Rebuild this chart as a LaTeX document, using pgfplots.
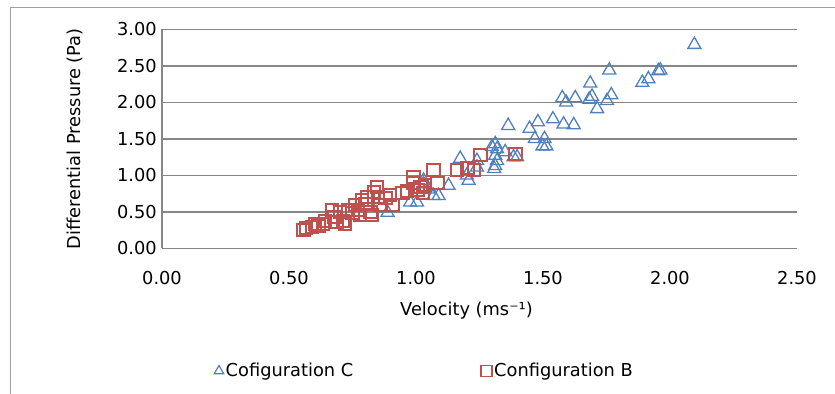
\documentclass[border=0pt]{standalone}
\usepackage{fontspec}
\setmainfont{DejaVu Sans}
\usepackage{pgfplots}
\pgfplotsset{compat=1.18}
\definecolor{cgrid}{RGB}{134,134,134}
\definecolor{cblue}{RGB}{79,129,189}
\definecolor{cred}{RGB}{192,80,77}
\definecolor{cframe}{RGB}{160,160,160}
\pgfplotsset{
  legtri/.style={legend image code/.code={\draw[##1, mark size=5.5bp, mark options={line width=1.2bp}] plot coordinates {(0bp,0bp)};}},
  legsq/.style={legend image code/.code={\draw[##1, mark size=5.5bp, mark options={line width=1.6bp}] plot coordinates {(0bp,0bp)};}},
}
\begin{document}
\fontsize{17.8bp}{21bp}\selectfont
\begin{tikzpicture}
\useasboundingbox (0bp,0bp) rectangle (835bp,-394bp);
\draw[cframe, line width=1bp] (10bp,-400bp) -- (10bp,-7bp) -- (840bp,-7bp);
\begin{axis}[
  at={(162bp,-248.3bp)}, anchor=south west,
  scale only axis, width=635bp, height=219bp,
  xmin=0, xmax=2.5, ymin=0, ymax=3,
  xtick={0,0.5,1,1.5,2,2.5}, ytick={0,0.5,1,1.5,2,2.5,3},
  axis x line*=bottom, axis y line*=left,
  axis line style={-, cgrid, line width=1.5bp},
  ymajorgrids, grid style={cgrid, line width=1.5bp},
  major tick length=0pt, tick style={draw=none},
  /pgf/number format/.cd, fixed, fixed zerofill, precision=2, assume math mode=true,
  /pgfplots/.cd,
  xticklabel style={anchor=center, yshift=-29.7bp},
  yticklabel style={anchor=east, inner sep=0pt, xshift=-5bp},
  xlabel={Velocity (ms⁻¹)},
  ylabel={Differential Pressure (Pa)},
  xlabel style={at={(axis description cs:0.4795,-0.2863)}, anchor=center},
  ylabel style={at={(axis description cs:-0.137,0.5)}, anchor=center},
  legend style={at={(axis description cs:0.0819,-0.5603)}, anchor=west, draw=none, fill=none, inner sep=0pt,
    nodes={inner sep=2bp}, /tikz/every even column/.append style={column sep=126bp}},
  legend columns=2, legend cell align=left,
  clip=false,
]
\addplot[only marks, mark=triangle, mark size=7.5bp, color=cblue, mark options={line width=1.3bp, fill=none}, legtri]
table {
x y
2.096 2.79
1.761 2.44
1.962 2.44
1.954 2.43
1.915 2.32
1.891 2.27
1.686 2.26
1.769 2.10
1.752 2.02
1.693 2.08
1.682 2.04
1.713 1.91
1.576 2.06
1.591 2.00
1.627 2.06
1.539 1.77
1.480 1.73
1.447 1.64
1.581 1.70
1.621 1.69
1.363 1.68
1.468 1.50
1.506 1.50
1.498 1.40
1.513 1.40
1.299 1.39
1.312 1.43
1.319 1.36
1.312 1.27
1.319 1.20
1.312 1.13
1.308 1.09
1.351 1.32
1.384 1.25
1.398 1.25
1.174 1.23
1.200 1.00
1.207 0.93
1.240 1.20
1.240 1.11
1.030 0.93
1.030 0.88
1.049 0.81
1.069 0.72
1.089 0.72
1.128 0.86
0.977 0.63
1.004 0.63
0.888 0.49
};
\addlegendentry{Cofiguration C}
\addplot[only marks, mark=square, mark size=6.3bp, color=cred, mark options={line width=2bp, fill=none}, legsq]
table {
x y
0.556 0.251
0.567 0.278
0.591 0.292
0.603 0.333
0.615 0.305
0.634 0.333
0.642 0.374
0.670 0.525
0.678 0.429
0.686 0.360
0.701 0.497
0.713 0.374
0.721 0.333
0.733 0.525
0.749 0.484
0.760 0.593
0.772 0.525
0.780 0.456
0.788 0.662
0.800 0.607
0.808 0.703
0.820 0.497
0.827 0.456
0.835 0.771
0.847 0.840
0.851 0.703
0.859 0.593
0.879 0.689
0.898 0.730
0.910 0.593
0.946 0.758
0.965 0.785
0.989 0.977
0.989 0.895
1.005 0.799
1.017 0.840
1.028 0.758
1.036 0.868
1.068 1.073
1.084 0.895
1.162 1.073
1.202 1.100
1.229 1.073
1.253 1.278
1.391 1.292
};
\addlegendentry{Configuration B}
\end{axis}
\end{tikzpicture}
\end{document}
